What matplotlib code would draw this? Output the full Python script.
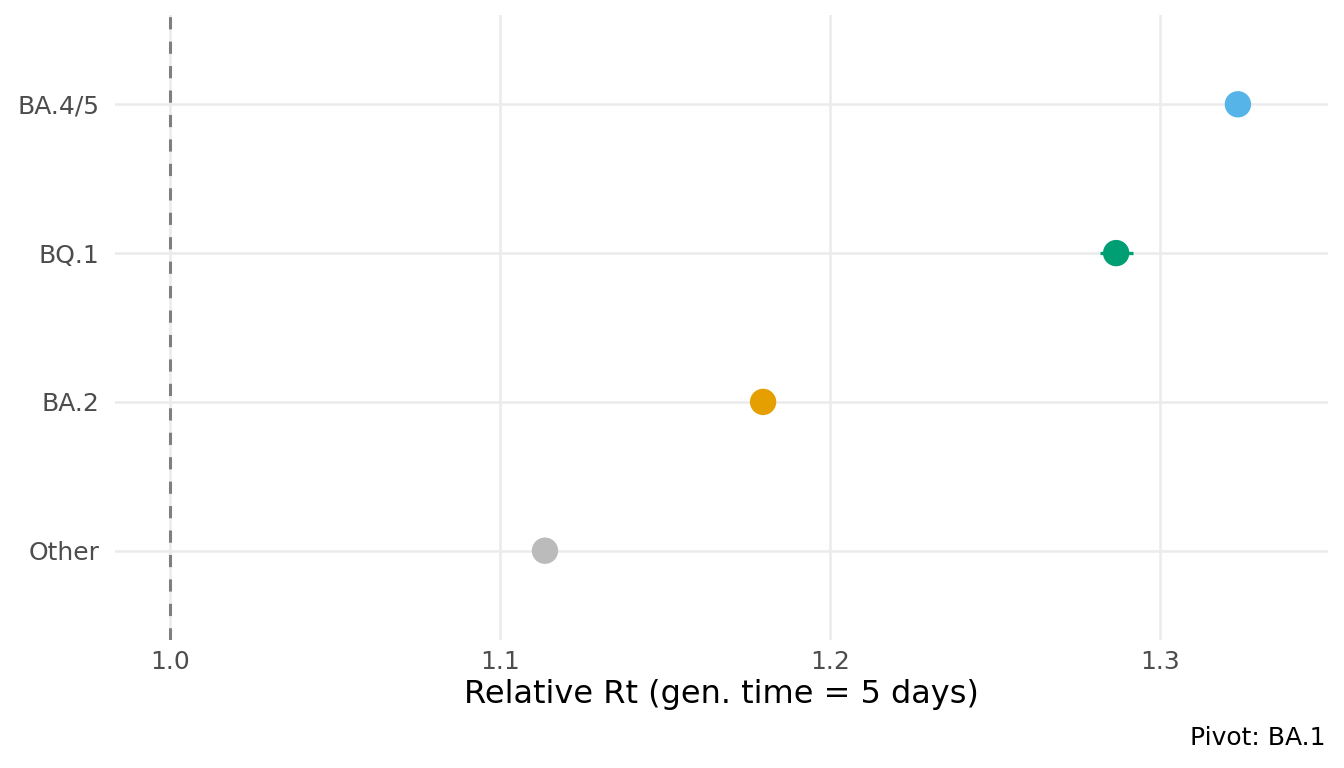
import matplotlib
matplotlib.use("Agg")
import matplotlib.pyplot as plt

variants = ["Other", "BA.2", "BQ.1", "BA.4/5"]
rt = [1.1136, 1.1797, 1.2867, 1.3236]
rt_low = [1.1136, 1.1797, 1.2818, 1.3236]
rt_high = [1.1136, 1.1797, 1.2918, 1.3236]
colors = ["#BBBBBB", "#E69F00", "#009E73", "#56B4E9"]
xticks = [1.0, 1.1, 1.2, 1.3]

fig = plt.figure(figsize=(13.44, 7.68), dpi=100)
ax = fig.add_axes([115 / 1344, 128 / 768, (1328 - 115) / 1344, (640 - 15) / 768])

ypos = list(range(1, len(variants) + 1))
ax.axvline(1.0, color="#7F7F7F", linestyle=(0, (4, 4)), linewidth=2.2, zorder=2)
for y, lo, hi, c in zip(ypos, rt_low, rt_high, colors):
    ax.plot([lo, hi], [y, y], color=c, linewidth=2.4, solid_capstyle="butt", zorder=3)
ax.scatter(rt, ypos, s=360, c=colors, zorder=4, linewidths=0)

ax.set_xlim(0.9833, 1.3509)
ax.set_ylim(0.4, 4.6)
ax.set_xticks(xticks)
ax.set_xticklabels([f"{v:.1f}" for v in xticks])
ax.set_yticks(ypos)
ax.set_yticklabels(variants)
ax.grid(True, color="#EBEBEB", linewidth=1.8, zorder=0)
ax.set_axisbelow(True)
for s in ax.spines.values():
    s.set_visible(False)
ax.tick_params(length=0, labelsize=18, labelcolor="#4D4D4D")
ax.tick_params(axis="x", pad=7)
ax.tick_params(axis="y", pad=11)
ax.set_xlabel("Relative Rt (gen. time = 5 days)", fontsize=23, labelpad=4)

fig.text(1326 / 1344, 1 - 738 / 768, "Pivot: BA.1", ha="right", va="center", fontsize=18)

fig.savefig("out.png", dpi=100)
